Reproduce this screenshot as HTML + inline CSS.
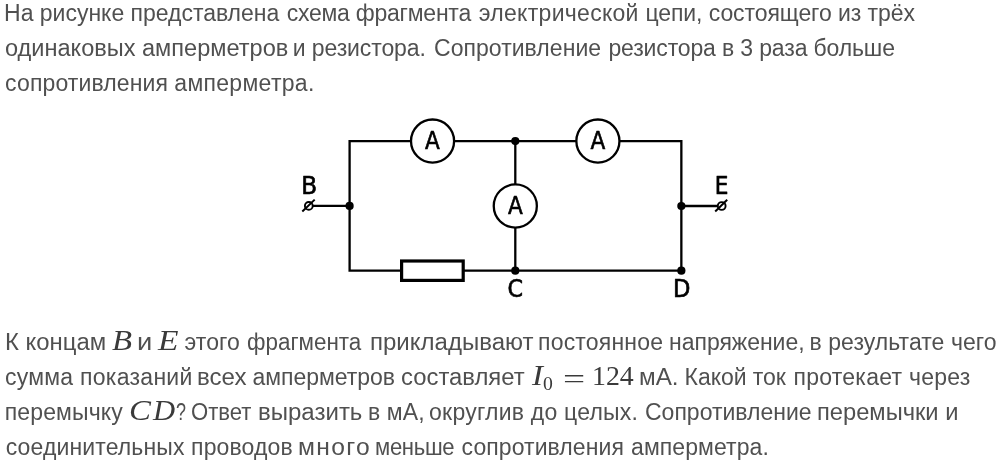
<!DOCTYPE html>
<html lang="ru">
<head>
<meta charset="utf-8">
<title>Задача</title>
<style>
html,body{margin:0;padding:0;background:#fff;}
body{width:1005px;height:461px;position:relative;overflow:hidden;font-family:"Liberation Sans",sans-serif;color:#505050;}
.t,.mi,.mn,.me,.ms{position:absolute;white-space:nowrap;line-height:34px;height:34px;transform-origin:0 50%;}
.t{font-size:23px;}
.mi{font-family:"Liberation Serif",serif;font-style:italic;font-size:28.5px;color:#3a3a3a;line-height:35px;height:35px;}
.mn,.me{font-family:"Liberation Serif",serif;font-size:27px;color:#3a3a3a;}
.ms{font-family:"Liberation Serif",serif;font-size:19px;color:#3a3a3a;line-height:35px;height:35px;}
svg{position:absolute;left:0;top:0;}
#pg{position:absolute;left:0;top:0;width:1005px;height:461px;will-change:transform;}
</style>
</head>
<body>
<div id="pg">
<p style="margin:0">
<span class="t" style="left:4.1px;top:-4.0px;letter-spacing:-0.018px;">На рисунке представлена</span>
<span class="t" style="left:286.7px;top:-4.0px;letter-spacing:-0.236px;">схема фрагмента</span>
<span class="t" style="left:478.8px;top:-4.0px;letter-spacing:0.292px;">электрической</span>
<span class="t" style="left:645.4px;top:-4.0px;letter-spacing:-0.078px;">цепи, состоящего из трёх</span>
<span class="t" style="left:4.68px;top:31.0px;transform:scaleX(1.024);">одинаковых амперметров</span>
<span class="t" style="left:292.8px;top:31.0px;letter-spacing:-0.109px;">и резистора.</span>
<span class="t" style="left:434.0px;top:31.0px;letter-spacing:0.042px;">Сопротивление</span>
<span class="t" style="left:608.4px;top:31.0px;letter-spacing:-0.142px;">резистора в 3 раза больше</span>
<span class="t" style="left:5.1px;top:66.0px;letter-spacing:0.125px;">сопротивления</span>
<span class="t" style="left:174.3px;top:66.0px;letter-spacing:0.3px;">амперметра.</span>
</p>
<svg width="1005" height="461" viewBox="0 0 1005 461">
<g fill="none" stroke="#000" stroke-width="2.3" stroke-linejoin="miter">
<path d="M349.6 141.05 H681.35 V270.7 H349.6 Z"/>
<path d="M515.3 141.05 V270.7"/>
<path d="M312.5 205.9 H349.6"/>
<path d="M681.35 206 H718"/>
<circle cx="432.55" cy="141.05" r="21.55" fill="#fff"/>
<circle cx="597.9" cy="141.05" r="21.55" fill="#fff"/>
<circle cx="515.3" cy="206" r="21.55" fill="#fff"/>
<rect x="401.6" y="261" width="61.6" height="19.4" fill="#fff" stroke-width="3.2"/>
<circle cx="308.8" cy="205.9" r="3.9" stroke-width="1.9"/>
<path d="M302.3 211.5 L314.7 199.6" stroke-width="2"/>
<circle cx="721.7" cy="206" r="3.9" stroke-width="1.9"/>
<path d="M715.2 211.5 L727.2 199.8" stroke-width="2"/>
</g>
<g fill="#000">
<circle cx="349.6" cy="205.9" r="4.1"/>
<circle cx="515.3" cy="141.05" r="4.1"/>
<circle cx="515.3" cy="270.7" r="4.1"/>
<circle cx="681.35" cy="206" r="4.1"/>
<circle cx="681.35" cy="270.7" r="4.1"/>
</g>
<g font-family="'DejaVu Sans Condensed','Liberation Sans',sans-serif" font-size="24" fill="#000" stroke="#000" stroke-width="0.6" stroke-linejoin="round" text-anchor="middle">
<text x="432.5" y="149.2">A</text>
<text x="597.9" y="149.2">A</text>
<text x="515.3" y="214.2">A</text>
<text transform="translate(309.1 194) scale(1.07 1)">B</text>
<text transform="translate(721.5 194.4) scale(1.0 1)">E</text>
<text transform="translate(515.35 297) scale(1.03 1)">C</text>
<text transform="translate(681.7 296.9) scale(1.05 1)">D</text>
</g>
</svg>

<p style="margin:0">
<span class="t" style="left:4.62px;top:325.0px;transform:scaleX(1.038);">К концам</span>
<span class="mi" style="left:112.2px;top:323.0px;transform:scaleX(1.153);">B</span>
<span class="t" style="left:137.12px;top:325.0px;transform:scaleX(1.189);">и</span>
<span class="mi" style="left:158.4px;top:323.0px;transform:scaleX(1.176);">E</span>
<span class="t" style="left:184.6px;top:325.0px;letter-spacing:0.025px;">этого</span>
<span class="t" style="left:247.42px;top:325.0px;transform:scaleX(0.975);">фрагмента</span>
<span class="t" style="left:369.81px;top:325.0px;transform:scaleX(1.044);">прикладывают</span>
<span class="t" style="left:538.0px;top:325.0px;letter-spacing:0.2px;">постоянное</span>
<span class="t" style="left:669.1px;top:325.0px;letter-spacing:-0.04px;">напряжение,</span>
<span class="t" style="left:809.5px;top:325.0px;letter-spacing:0.062px;">в результате чего</span>
<span class="t" style="left:4.9px;top:360.0px;letter-spacing:0.271px;">сумма показаний</span>
<span class="t" style="left:196.91px;top:360.0px;transform:scaleX(1.047);">всех</span>
<span class="t" style="left:252.4px;top:360.0px;letter-spacing:-0.02px;">амперметров</span>
<span class="t" style="left:401.36px;top:360.0px;transform:scaleX(1.037);">составляет</span>
<span class="mi" style="left:531.9px;top:358.0px;transform:scaleX(1.155);">I</span>
<span class="ms" style="left:543.46px;top:365.5px;transform:scaleX(1.037);">0</span>
<span class="me" style="left:563.15px;top:362.0px;transform:scaleX(1.454);">=</span>
<span class="mn" style="left:592.44px;top:359.0px;transform:scaleX(1.032);">124</span>
<span class="t" style="left:639.39px;top:360.0px;transform:scaleX(1.053);">мА.</span>
<span class="t" style="left:684.6px;top:360.0px;letter-spacing:-0.05px;">Какой ток</span>
<span class="t" style="left:793.5px;top:360.0px;letter-spacing:0.25px;">протекает через</span>
<span class="t" style="left:4.7px;top:395.0px;letter-spacing:0.137px;">перемычку</span>
<span class="mi" style="left:128.79px;top:393.0px;transform:scaleX(1.153);">C</span>
<span class="mi" style="left:152.5px;top:393.0px;transform:scaleX(1.075);">D</span>
<span class="t" style="left:176.02px;top:395.0px;transform:scaleX(0.782);">?</span>
<span class="t" style="left:191.14px;top:395.0px;transform:scaleX(0.961);">Ответ</span>
<span class="t" style="left:258.01px;top:395.0px;transform:scaleX(1.044);">выразить</span>
<span class="t" style="left:368.0px;top:395.0px;letter-spacing:0.125px;">в мА,</span>
<span class="t" style="left:429.1px;top:395.0px;letter-spacing:0.224px;">округлив до целых.</span>
<span class="t" style="left:645.0px;top:395.0px;">Сопротивление</span>
<span class="t" style="left:816.54px;top:395.0px;transform:scaleX(1.03);">перемычки и</span>
<span class="t" style="left:5.7px;top:430.0px;letter-spacing:0.127px;">соединительных проводов</span>
<span class="t" style="left:298.36px;top:430.0px;letter-spacing:1.231px;transform:scaleX(1.07);">много</span>
<span class="t" style="left:374.98px;top:430.0px;letter-spacing:-0.317px;transform:scaleX(0.96);">меньше</span>
<span class="t" style="left:461.6px;top:430.0px;letter-spacing:0.075px;">сопротивления</span>
<span class="t" style="left:631.0px;top:430.0px;letter-spacing:0.09px;">амперметра.</span>
</p>
</div>
</body>
</html>
